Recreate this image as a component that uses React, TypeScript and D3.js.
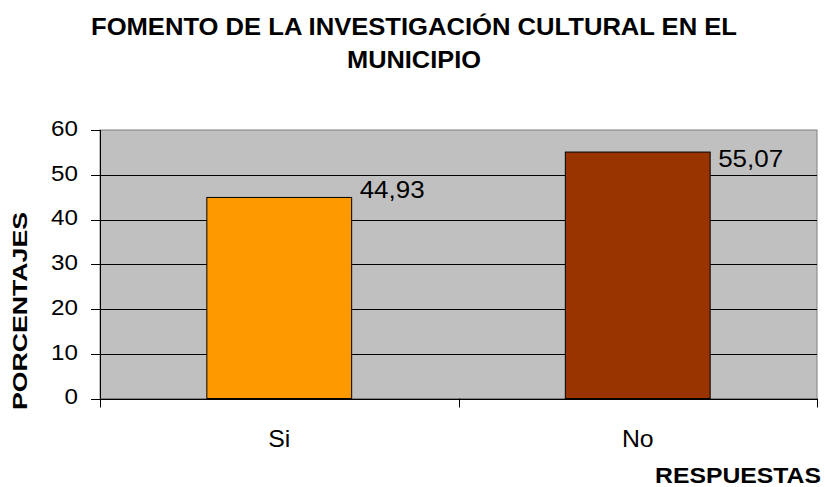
import React from "react";
import * as d3 from "d3";

const categories = ["Si", "No"];
const values = [44.93, 55.07];
const valueLabels = ["44,93", "55,07"];
const barColors = ["#FF9900", "#993300"];
const yTicks = [0, 10, 20, 30, 40, 50, 60];
const titleLines = ["FOMENTO DE LA INVESTIGACIÓN CULTURAL EN EL", "MUNICIPIO"];
const yTitle = "PORCENTAJES";
const xTitle = "RESPUESTAS";

const W = 825;
const H = 487;
const plot = { left: 100, right: 817, top: 130, bottom: 398.5 };
const font = "'Liberation Sans', Arial, sans-serif";

export default function App() {
  const x = d3.scaleBand<string>().domain(categories).range([plot.left, plot.right]).padding(0);
  const y = d3.scaleLinear().domain([0, 60]).range([plot.bottom, plot.top]);
  const barW = x.bandwidth() * 0.404;
  const labelDy = [-6, 9];
  const bounds = [plot.left, ...categories.slice(1).map((c) => x(c)!), plot.right];

  return (
    <svg width={W} height={H} style={{ position: "absolute", left: 0, top: 0, background: "#fff" }}>
      {/* Title */}
      <text x={414} y={35} textAnchor="middle" fontFamily={font} fontWeight="bold" fontSize={24.5}
        textLength={646} lengthAdjust="spacingAndGlyphs" fill="#000">{titleLines[0]}</text>
      <text x={414} y={68} textAnchor="middle" fontFamily={font} fontWeight="bold" fontSize={24.5}
        textLength={134} lengthAdjust="spacingAndGlyphs" fill="#000">{titleLines[1]}</text>

      {/* Plot background */}
      <rect x={plot.left} y={plot.top} width={plot.right - plot.left} height={plot.bottom - plot.top}
        fill="#C0C0C0" stroke="#808080" strokeWidth={1} />

      {/* Gridlines */}
      {yTicks.filter((t) => t > 0 && t < 60).map((t) => (
        <line key={t} x1={plot.left} x2={plot.right} y1={Math.round(y(t)) + 0.5} y2={Math.round(y(t)) + 0.5}
          stroke="#000" strokeWidth={1} />
      ))}

      {/* Bars */}
      {categories.map((c, i) => {
        const cx = x(c)! + x.bandwidth() / 2;
        return (
          <g key={c}>
            <rect x={cx - barW / 2} y={y(values[i])} width={barW} height={plot.bottom - y(values[i])}
              fill={barColors[i]} stroke="#000" strokeWidth={1} />
            <text x={cx + barW / 2 + 8} y={y(values[i]) + labelDy[i]} dominantBaseline="middle"
              fontFamily={font} fontSize={23} textLength={65} lengthAdjust="spacingAndGlyphs" fill="#000">
              {valueLabels[i]}
            </text>
          </g>
        );
      })}

      {/* Y axis */}
      <line x1={plot.left + 0.5} x2={plot.left + 0.5} y1={plot.top} y2={plot.bottom} stroke="#000" />
      {yTicks.map((t) => (
        <g key={t}>
          <line x1={91} x2={plot.left} y1={Math.round(y(t)) + 0.5} y2={Math.round(y(t)) + 0.5} stroke="#000" />
          <text transform={`translate(78,${y(t)}) scale(1.1,1)`} textAnchor="end" dominantBaseline="middle"
            fontFamily={font} fontSize={22} fill="#000">{t}</text>
        </g>
      ))}

      {/* X axis */}
      <line x1={plot.left} x2={plot.right} y1={Math.round(plot.bottom) + 0.5} y2={Math.round(plot.bottom) + 0.5} stroke="#000" />
      {bounds.map((b, i) => (
        <line key={i} x1={Math.round(b) + 0.5} x2={Math.round(b) + 0.5} y1={plot.bottom} y2={plot.bottom + 9} stroke="#000" />
      ))}
      {categories.map((c) => (
        <text key={c} transform={`translate(${x(c)! + x.bandwidth() / 2},447) scale(1.08,1)`} textAnchor="middle"
          fontFamily={font} fontSize={23} fill="#000">{c}</text>
      ))}

      {/* Axis titles */}
      <text transform="translate(27,311) rotate(-90)" textAnchor="middle" fontFamily={font} fontWeight="bold"
        fontSize={21} textLength={198} lengthAdjust="spacingAndGlyphs" fill="#000">{yTitle}</text>
      <text x={821} y={483} textAnchor="end" fontFamily={font} fontWeight="bold" fontSize={22}
        textLength={166} lengthAdjust="spacingAndGlyphs" fill="#000">{xTitle}</text>
    </svg>
  );
}
